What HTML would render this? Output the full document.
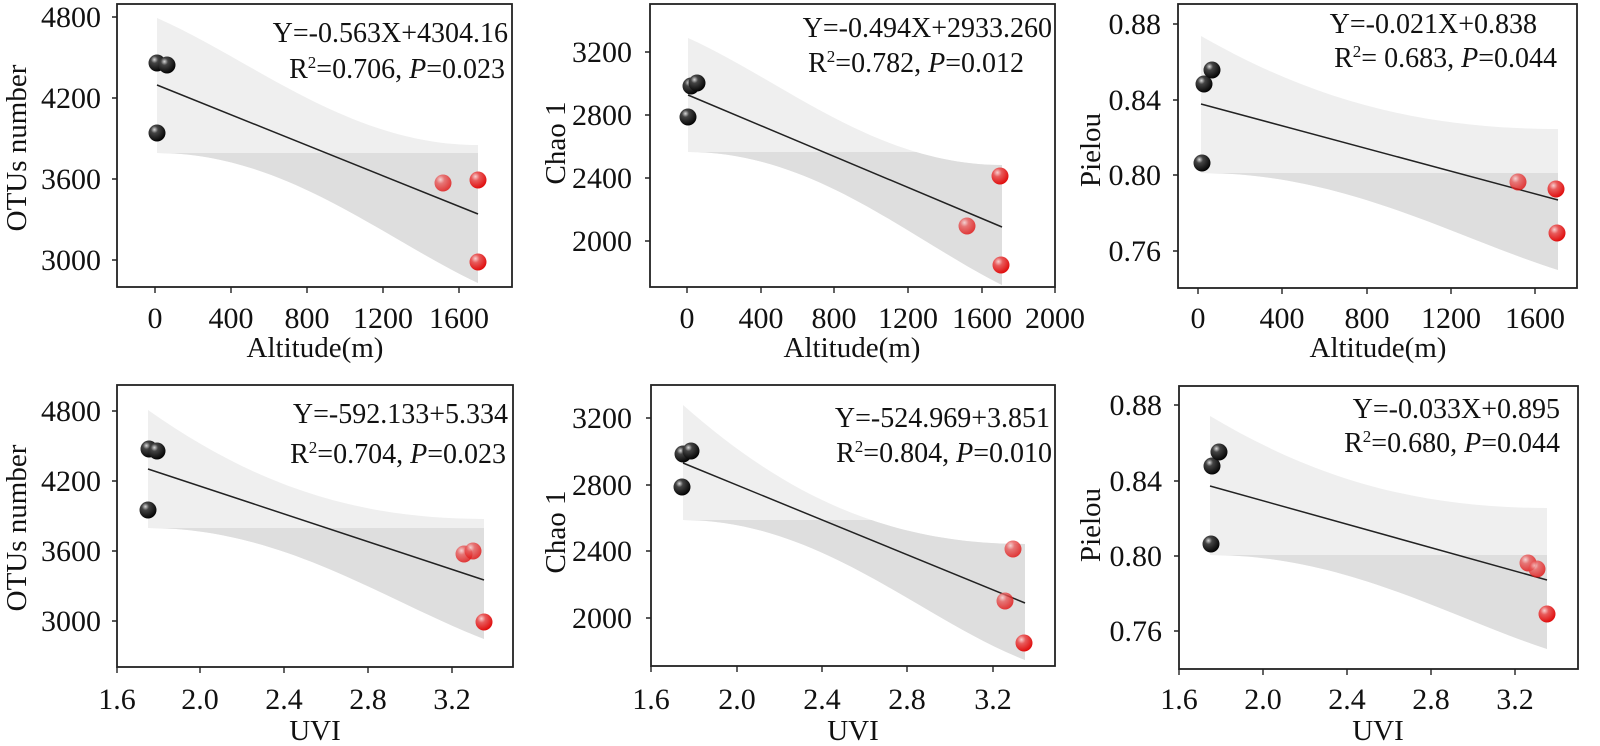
<!DOCTYPE html>
<html><head><meta charset="utf-8"><style>
html,body{margin:0;padding:0;background:#fff;overflow:hidden;}
svg{display:block;}
text{font-family:"Liberation Serif",serif;fill:#111;}
.t{font-size:30px;}
.e{font-size:28px;}
.l{font-size:29px;}
</style></head><body>
<svg width="1600" height="746" viewBox="0 0 1600 746" xmlns="http://www.w3.org/2000/svg">
<defs>
<radialGradient id="gb" cx="0.35" cy="0.3" r="0.7"><stop offset="0" stop-color="#d8d8d8"/><stop offset="0.3" stop-color="#444"/><stop offset="1" stop-color="#050505"/></radialGradient>
<radialGradient id="gr" cx="0.35" cy="0.3" r="0.7"><stop offset="0" stop-color="#f8d0d0"/><stop offset="0.35" stop-color="#e85a5a"/><stop offset="1" stop-color="#e01010"/></radialGradient>
<clipPath id="c1"><path d="M157,18 C253,60 350,145 478,145 L478,283 C382,238 285,153 157,153 Z"/></clipPath>
<clipPath id="c2"><path d="M688,38 C782,80 876,165 1002,165 L1002,285 C908,238 814,152 688,152 Z"/></clipPath>
<clipPath id="c3"><path d="M1201,36 C1308,97 1415,129 1558,129 L1558,270 C1451,236 1344,173 1201,173 Z"/></clipPath>
<clipPath id="c4"><path d="M148,410 C249,481 349,519 484,519 L484,639 C383,600 283,528 148,528 Z"/></clipPath>
<clipPath id="c5"><path d="M683,405 C786,496 888,544 1025,544 L1025,660 C922,620 820,520 683,520 Z"/></clipPath>
<clipPath id="c6"><path d="M1210,416 C1311,476 1412,508 1547,508 L1547,649 C1446,616 1345,555 1210,555 Z"/></clipPath>
</defs>

<g fill="#efefef">
<path d="M157,18 C253,60 350,145 478,145 L478,283 C382,238 285,153 157,153 Z"/>
<path d="M688,38 C782,80 876,165 1002,165 L1002,285 C908,238 814,152 688,152 Z"/>
<path d="M1201,36 C1308,97 1415,129 1558,129 L1558,270 C1451,236 1344,173 1201,173 Z"/>
<path d="M148,410 C249,481 349,519 484,519 L484,639 C383,600 283,528 148,528 Z"/>
<path d="M683,405 C786,496 888,544 1025,544 L1025,660 C922,620 820,520 683,520 Z"/>
<path d="M1210,416 C1311,476 1412,508 1547,508 L1547,649 C1446,616 1345,555 1210,555 Z"/>
</g>
<g fill="#dedede">
<rect x="150" y="153" width="340" height="140" clip-path="url(#c1)"/>
<rect x="680" y="152" width="330" height="140" clip-path="url(#c2)"/>
<rect x="1195" y="173" width="370" height="110" clip-path="url(#c3)"/>
<rect x="140" y="528" width="350" height="120" clip-path="url(#c4)"/>
<rect x="675" y="520" width="360" height="150" clip-path="url(#c5)"/>
<rect x="1205" y="555" width="350" height="100" clip-path="url(#c6)"/>
</g>

<g stroke="#222" stroke-width="1.5">
<line x1="157" y1="85" x2="478" y2="214"/>
<line x1="688" y1="95" x2="1002" y2="227"/>
<line x1="1201" y1="104" x2="1558" y2="200"/>
<line x1="148" y1="469" x2="484" y2="580"/>
<line x1="683" y1="463" x2="1025" y2="603"/>
<line x1="1210" y1="486" x2="1547" y2="580"/>
</g>

<g>
<circle cx="157" cy="63" r="8.5" fill="url(#gb)"/><circle cx="167" cy="65" r="8.5" fill="url(#gb)"/><circle cx="157" cy="133" r="8.5" fill="url(#gb)"/>
<circle cx="443" cy="183" r="8.5" fill="url(#gr)" opacity="0.8"/><circle cx="478" cy="180" r="8.5" fill="url(#gr)"/><circle cx="478" cy="262" r="8.5" fill="url(#gr)"/>
<circle cx="691" cy="86" r="8.5" fill="url(#gb)"/><circle cx="697" cy="83" r="8.5" fill="url(#gb)"/><circle cx="688" cy="117" r="8.5" fill="url(#gb)"/>
<circle cx="967" cy="226" r="8.5" fill="url(#gr)" opacity="0.8"/><circle cx="1000" cy="176" r="8.5" fill="url(#gr)"/><circle cx="1001" cy="265" r="8.5" fill="url(#gr)"/>
<circle cx="1204" cy="84" r="8.5" fill="url(#gb)"/><circle cx="1212" cy="70" r="8.5" fill="url(#gb)"/><circle cx="1202" cy="163" r="8.5" fill="url(#gb)"/>
<circle cx="1518" cy="182" r="8.5" fill="url(#gr)" opacity="0.8"/><circle cx="1556" cy="189" r="8.5" fill="url(#gr)"/><circle cx="1557" cy="233" r="8.5" fill="url(#gr)"/>
<circle cx="149" cy="449" r="8.5" fill="url(#gb)"/><circle cx="157" cy="451" r="8.5" fill="url(#gb)"/><circle cx="148" cy="510" r="8.5" fill="url(#gb)"/>
<circle cx="464" cy="554" r="8.5" fill="url(#gr)" opacity="0.8"/><circle cx="473" cy="551" r="8.5" fill="url(#gr)" opacity="0.8"/><circle cx="484" cy="622" r="8.5" fill="url(#gr)"/>
<circle cx="683" cy="454" r="8.5" fill="url(#gb)"/><circle cx="691" cy="451" r="8.5" fill="url(#gb)"/><circle cx="682" cy="487" r="8.5" fill="url(#gb)"/>
<circle cx="1013" cy="549" r="8.5" fill="url(#gr)" opacity="0.8"/><circle cx="1005" cy="601" r="8.5" fill="url(#gr)" opacity="0.8"/><circle cx="1024" cy="643" r="8.5" fill="url(#gr)"/>
<circle cx="1212" cy="466" r="8.5" fill="url(#gb)"/><circle cx="1219" cy="452" r="8.5" fill="url(#gb)"/><circle cx="1211" cy="544" r="8.5" fill="url(#gb)"/>
<circle cx="1528" cy="563" r="8.5" fill="url(#gr)" opacity="0.8"/><circle cx="1537" cy="569" r="8.5" fill="url(#gr)" opacity="0.8"/><circle cx="1547" cy="614" r="8.5" fill="url(#gr)"/>
</g>

<g fill="none" stroke="#222" stroke-width="1.8">
<rect x="117" y="4" width="395" height="283"/>
<rect x="650" y="4" width="405" height="283"/>
<rect x="1178" y="4" width="399" height="284"/>
<rect x="117" y="385" width="396" height="282"/>
<rect x="651" y="385" width="404" height="281"/>
<rect x="1179" y="386" width="399" height="283"/>
</g>
<g stroke="#222" stroke-width="1.4">
<path d="M112,17H117M112,98H117M112,179H117M112,260H117 M155,287V293M231,287V293M307,287V293M383,287V293M459,287V293"/>
<path d="M645,52H650M645,115H650M645,178H650M645,241H650 M687,287V293M761,287V293M834,287V293M908,287V293M982,287V293M1055,287V293"/>
<path d="M1173,24H1178M1173,100H1178M1173,175H1178M1173,251H1178 M1198,288V294M1282,288V294M1367,288V294M1451,288V294M1535,288V294"/>
<path d="M112,411H117M112,481H117M112,551H117M112,621H117 M117,667V673M200,667V673M284,667V673M368,667V673M452,667V673"/>
<path d="M646,418H651M646,485H651M646,551H651M646,618H651 M651,666V672M737,666V672M822,666V672M907,666V672M993,666V672"/>
<path d="M1174,405H1179M1174,481H1179M1174,556H1179M1174,631H1179 M1179,669V675M1263,669V675M1347,669V675M1431,669V675M1515,669V675"/>
</g>

<g class="t" text-anchor="end">
<text x="101" y="27">4800</text><text x="101" y="108">4200</text><text x="101" y="189">3600</text><text x="101" y="270">3000</text>
<text x="632" y="62">3200</text><text x="632" y="125">2800</text><text x="632" y="188">2400</text><text x="632" y="251">2000</text>
<text x="1161" y="34">0.88</text><text x="1161" y="110">0.84</text><text x="1161" y="185">0.80</text><text x="1161" y="261">0.76</text>
<text x="101" y="421">4800</text><text x="101" y="491">4200</text><text x="101" y="561">3600</text><text x="101" y="631">3000</text>
<text x="632" y="428">3200</text><text x="632" y="495">2800</text><text x="632" y="561">2400</text><text x="632" y="628">2000</text>
<text x="1162" y="415">0.88</text><text x="1162" y="491">0.84</text><text x="1162" y="566">0.80</text><text x="1162" y="641">0.76</text>
</g>
<g class="t" text-anchor="middle">
<text x="155" y="328">0</text><text x="231" y="328">400</text><text x="307" y="328">800</text><text x="383" y="328">1200</text><text x="459" y="328">1600</text>
<text x="687" y="328">0</text><text x="761" y="328">400</text><text x="834" y="328">800</text><text x="908" y="328">1200</text><text x="982" y="328">1600</text><text x="1055" y="328">2000</text>
<text x="1198" y="328">0</text><text x="1282" y="328">400</text><text x="1367" y="328">800</text><text x="1451" y="328">1200</text><text x="1535" y="328">1600</text>
<text x="117" y="709">1.6</text><text x="200" y="709">2.0</text><text x="284" y="709">2.4</text><text x="368" y="709">2.8</text><text x="452" y="709">3.2</text>
<text x="651" y="709">1.6</text><text x="737" y="709">2.0</text><text x="822" y="709">2.4</text><text x="907" y="709">2.8</text><text x="993" y="709">3.2</text>
<text x="1179" y="709">1.6</text><text x="1263" y="709">2.0</text><text x="1347" y="709">2.4</text><text x="1431" y="709">2.8</text><text x="1515" y="709">3.2</text>
</g>

<g class="l" text-anchor="middle">
<text x="315" y="357">Altitude(m)</text>
<text x="852" y="357">Altitude(m)</text>
<text x="1378" y="357">Altitude(m)</text>
<text x="315" y="740">UVI</text>
<text x="853" y="740">UVI</text>
<text x="1378" y="740">UVI</text>
<text transform="translate(26,148) rotate(-90)">OTUs number</text>
<text transform="translate(565,143) rotate(-90)">Chao 1</text>
<text transform="translate(1100,150) rotate(-90)">Pielou</text>
<text transform="translate(26,528) rotate(-90)">OTUs number</text>
<text transform="translate(565,532) rotate(-90)">Chao 1</text>
<text transform="translate(1100,525) rotate(-90)">Pielou</text>
</g>

<g class="e" text-anchor="end">
<text x="508" y="42">Y=-0.563X+4304.16</text>
<text x="505" y="78">R<tspan dy="-10" font-size="17">2</tspan><tspan dy="10">=0.706, </tspan><tspan font-style="italic">P</tspan>=0.023</text>
<text x="1052" y="37">Y=-0.494X+2933.260</text>
<text x="1024" y="72">R<tspan dy="-10" font-size="17">2</tspan><tspan dy="10">=0.782, </tspan><tspan font-style="italic">P</tspan>=0.012</text>
<text x="1537" y="33">Y=-0.021X+0.838</text>
<text x="1557" y="67">R<tspan dy="-10" font-size="17">2</tspan><tspan dy="10">= 0.683, </tspan><tspan font-style="italic">P</tspan>=0.044</text>
<text x="508" y="423">Y=-592.133+5.334</text>
<text x="506" y="463">R<tspan dy="-10" font-size="17">2</tspan><tspan dy="10">=0.704, </tspan><tspan font-style="italic">P</tspan>=0.023</text>
<text x="1050" y="427">Y=-524.969+3.851</text>
<text x="1052" y="462">R<tspan dy="-10" font-size="17">2</tspan><tspan dy="10">=0.804, </tspan><tspan font-style="italic">P</tspan>=0.010</text>
<text x="1560" y="418">Y=-0.033X+0.895</text>
<text x="1560" y="452">R<tspan dy="-10" font-size="17">2</tspan><tspan dy="10">=0.680, </tspan><tspan font-style="italic">P</tspan>=0.044</text>
</g>
</svg>
</body></html>
